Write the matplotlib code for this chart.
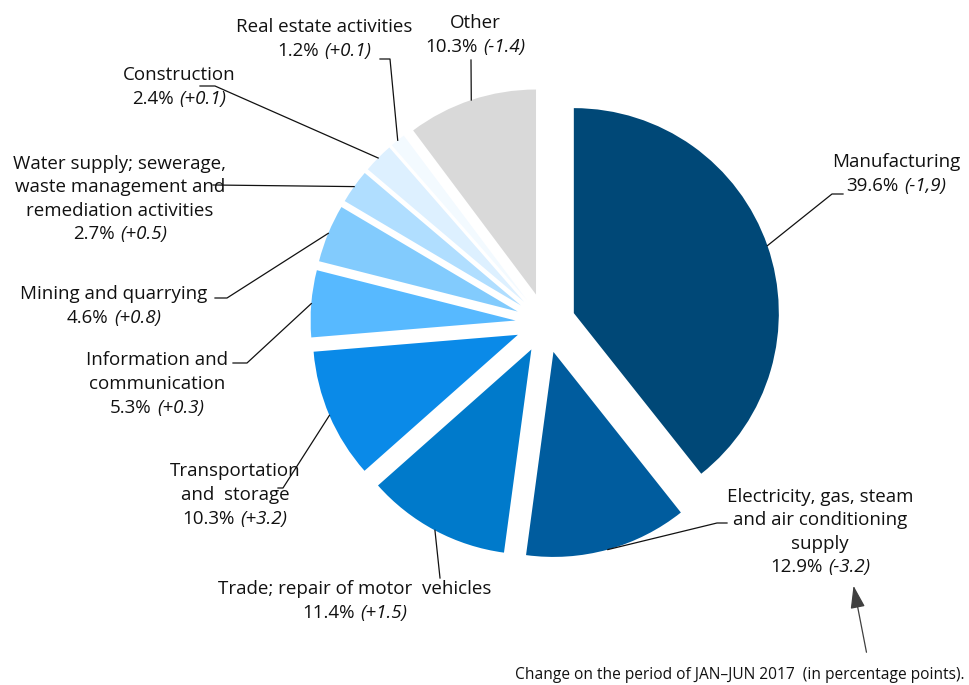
import matplotlib.pyplot as plt
from matplotlib.offsetbox import TextArea, HPacker, VPacker, AnnotationBbox
import numpy as np

plt.rcParams['font.family'] = ['Open Sans', 'DejaVu Sans']

# shares of investment by activity, clockwise from the top
sectors = ['Manufacturing', 'Electricity', 'Trade', 'Transportation', 'Information',
           'Mining', 'Water', 'Construction', 'Real estate', 'Other']
shares = [39.6, 12.9, 11.4, 10.3, 5.3, 4.6, 2.7, 2.4, 1.2, 10.3]
changes = ['(-1,9)', '(-3.2)', '(+1.5)', '(+3.2)', '(+0.3)', '(+0.8)', '(+0.5)', '(+0.1)', '(+0.1)', '(-1.4)']
names = [
    ['Manufacturing'],
    ['Electricity, gas, steam', 'and air conditioning', 'supply'],
    ['Trade; repair of motor  vehicles'],
    ['Transportation', 'and  storage'],
    ['Information and', 'communication'],
    ['Mining and quarrying'],
    ['Water supply; sewerage,', 'waste management and', 'remediation activities'],
    ['Construction'],
    ['Real estate activities'],
    ['Other'],
]
colors = ['#004877', '#005c9e', '#007acb', '#0a8ae8', '#57b9ff',
          '#82cbfd', '#b0deff', '#ddf0ff', '#f3faff', '#d9d9d9']

W, H = 969, 685
# label block centres and leader elbows/ends, in pixel coordinates from the top
label_pos = [(896, 174), (820, 532), (355, 601), (235, 495), (157, 384),
             (114, 306), (120, 199), (179, 87), (324, 39), (475, 35)]
elbows = [(832, 194), (717, 523), (440, 578), (283, 488), (247, 363),
          (227, 298), (213, 185), (215, 86), (390, 59), (471, 60)]
ends = [(843, 194), (727, 523), (440, 578), (278, 488), (233, 363),
        (215, 298), (213, 185), (200, 86), (380, 59), (471, 60)]

fig = plt.figure(figsize=(W / 100, H / 100), dpi=100)
ax = fig.add_axes([0, 0, 1, 1])

wedges, _ = ax.pie(shares, colors=colors, startangle=90, counterclock=False,
                   center=(545.5, H - 323), radius=205, explode=[30] * len(shares),
                   frame=True, wedgeprops=dict(linewidth=0))
ax.set_xlim(0, W)
ax.set_ylim(0, H)
ax.set_aspect('equal')
ax.axis('off')

fs = 13.5
ink = '#111111'
for w, lines, share, chg, (lx, ly), (ex, ey), (tx, ty) in zip(
        wedges, names, shares, changes, label_pos, elbows, ends):
    rows = [TextArea(t, textprops=dict(fontsize=fs, color=ink)) for t in lines]
    rows.append(HPacker(children=[
        TextArea(f'{share}%', textprops=dict(fontsize=fs, color=ink)),
        TextArea(chg, textprops=dict(fontsize=fs, color=ink, fontstyle='italic')),
    ], align='baseline', pad=0, sep=4))
    box = VPacker(children=rows, align='center', pad=0, sep=4)
    ax.add_artist(AnnotationBbox(box, (lx, H - ly), frameon=False,
                                 box_alignment=(0.5, 0.5)))

    # leader from the middle of the arc out to the label
    mid = np.deg2rad((w.theta1 + w.theta2) / 2)
    ax0 = w.center[0] + w.r * np.cos(mid)
    ay0 = w.center[1] + w.r * np.sin(mid)
    ax.plot([ax0, ex, tx], [ay0, H - ey, H - ty], color=ink, lw=0.9)

ax.annotate('', xy=(853, H - 583), xytext=(867, H - 655),
            arrowprops=dict(arrowstyle='-|>,head_length=1.4,head_width=0.45',
                            color='#404040', lw=0.9))
ax.text(965, H - 675, 'Change on the period of JAN\u2013JUN 2017  (in percentage points).',
        ha='right', va='center', fontsize=11.2, color=ink)

fig.savefig('out.png', dpi=100)
